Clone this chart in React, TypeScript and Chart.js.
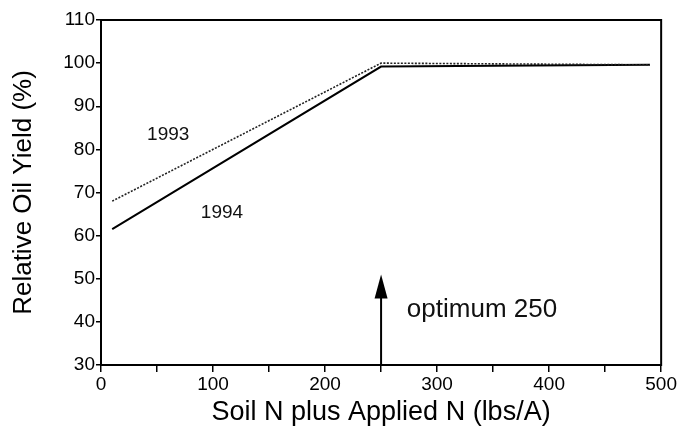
import { useEffect, useRef } from 'react';
import { Chart, registerables } from 'chart.js';

Chart.register(...registerables);

// ---- data ----
const seriesNames = ['1993', '1994'];
const nLevels1993 = [10, 250, 490];
const yield1993 = [68, 100, 99.6];
const nLevels1994 = [10, 250, 490];
const yield1994 = [61.5, 99.2, 99.6];
const xTickLabels = [0, 100, 200, 300, 400, 500];
const yTickLabels = [30, 40, 50, 60, 70, 80, 90, 100, 110];
const optimumN = [250];
const arrowFromTo = [30, 51];
const annotationTexts = ['1993', '1994', 'optimum 250'];
const annotationX = [60, 108, 273];
const annotationY = [83.3, 65.2, 42.7];

const FONT = '"Liberation Sans", Arial, Helvetica, sans-serif';

const overlayPlugin = {
  id: 'overlay',
  afterDatasetsDraw(chart: any) {
    const { ctx, chartArea, scales } = chart;
    const xs = scales.x;
    const ys = scales.y;
    ctx.save();
    // frame
    ctx.strokeStyle = '#000';
    ctx.lineWidth = 2;
    ctx.strokeRect(chartArea.left, chartArea.top, chartArea.right - chartArea.left, chartArea.bottom - chartArea.top);
    // arrow
    const ax = xs.getPixelForValue(optimumN[0]);
    const y0 = ys.getPixelForValue(arrowFromTo[0]);
    const y1 = ys.getPixelForValue(arrowFromTo[1]);
    const headH = 24;
    const headW = 13;
    ctx.lineWidth = 2;
    ctx.beginPath();
    ctx.moveTo(ax, y0);
    ctx.lineTo(ax, y1 + headH - 2);
    ctx.stroke();
    ctx.fillStyle = '#000';
    ctx.beginPath();
    ctx.moveTo(ax, y1);
    ctx.lineTo(ax - headW / 2, y1 + headH);
    ctx.lineTo(ax + headW / 2, y1 + headH);
    ctx.closePath();
    ctx.fill();
    // text annotations
    ctx.textBaseline = 'middle';
    annotationTexts.forEach((t, i) => {
      const px = xs.getPixelForValue(annotationX[i]);
      const py = ys.getPixelForValue(annotationY[i]);
      if (i === 2) {
        ctx.font = `26px ${FONT}`;
        ctx.textAlign = 'left';
      } else {
        ctx.font = `19px ${FONT}`;
        ctx.textAlign = 'center';
      }
      ctx.fillStyle = '#111';
      ctx.fillText(t, px, py);
    });
    ctx.restore();
  },
};

export default function App() {
  const ref = useRef<HTMLCanvasElement | null>(null);
  useEffect(() => {
    if (!ref.current) return;
    const chart = new Chart(ref.current, {
      type: 'line',
      data: {
        datasets: [
          {
            label: seriesNames[0],
            data: nLevels1993.map((x, i) => ({ x, y: yield1993[i] })),
            borderColor: '#222',
            borderWidth: 1.6,
            borderDash: [2, 1.5],
            pointRadius: 0,
            tension: 0,
          },
          {
            label: seriesNames[1],
            data: nLevels1994.map((x, i) => ({ x, y: yield1994[i] })),
            borderColor: '#000',
            borderWidth: 2,
            pointRadius: 0,
            tension: 0,
          },
        ],
      },
      options: {
        animation: false,
        responsive: false,
        devicePixelRatio: 1,
        layout: { padding: { left: 0, top: 20, right: 16, bottom: 0 } },
        plugins: { legend: { display: false }, tooltip: { enabled: false } },
        scales: {
          x: {
            type: 'linear',
            min: 0,
            max: 500,
            afterFit: (s: any) => {
              s.height = 62;
            },
            border: { display: true, color: '#000', width: 2 },
            grid: { drawOnChartArea: false, drawTicks: true, tickLength: 7, color: '#000', lineWidth: 1.5 },
            ticks: {
              stepSize: 50,
              autoSkip: false,
              maxRotation: 0,
              padding: 1,
              color: '#000',
              font: { family: FONT, size: 19 },
              callback: (v: any) => (xTickLabels.includes(Number(v)) ? String(v) : ''),
            },
            title: {
              display: true,
              text: 'Soil N plus Applied N (lbs/A)',
              color: '#000',
              font: { family: FONT, size: 27, lineHeight: 1 },
              padding: { top: 0, bottom: 1 },
            },
          },
          y: {
            type: 'linear',
            min: 30,
            max: 110,
            afterFit: (s: any) => {
              s.width = 101;
            },
            border: { display: true, color: '#000', width: 2 },
            grid: { drawOnChartArea: false, drawTicks: true, tickLength: 5, color: '#000', lineWidth: 1.5 },
            ticks: {
              stepSize: 10,
              autoSkip: false,
              padding: 1,
              color: '#000',
              font: { family: FONT, size: 19 },
              callback: (v: any) => (yTickLabels.includes(Number(v)) ? String(v) : ''),
            },
            title: {
              display: true,
              text: 'Relative Oil Yield (%)',
              color: '#000',
              font: { family: FONT, size: 26, lineHeight: 1 },
              padding: { top: 11, bottom: 0 },
            },
          },
        },
      },
      plugins: [overlayPlugin],
    });
    return () => chart.destroy();
  }, []);
  return (
    <div style={{ position: 'absolute', left: 0, top: 0, width: 678, height: 427, background: '#fff' }}>
      <canvas ref={ref} width={678} height={427} style={{ width: 678, height: 427, display: 'block' }} />
    </div>
  );
}
